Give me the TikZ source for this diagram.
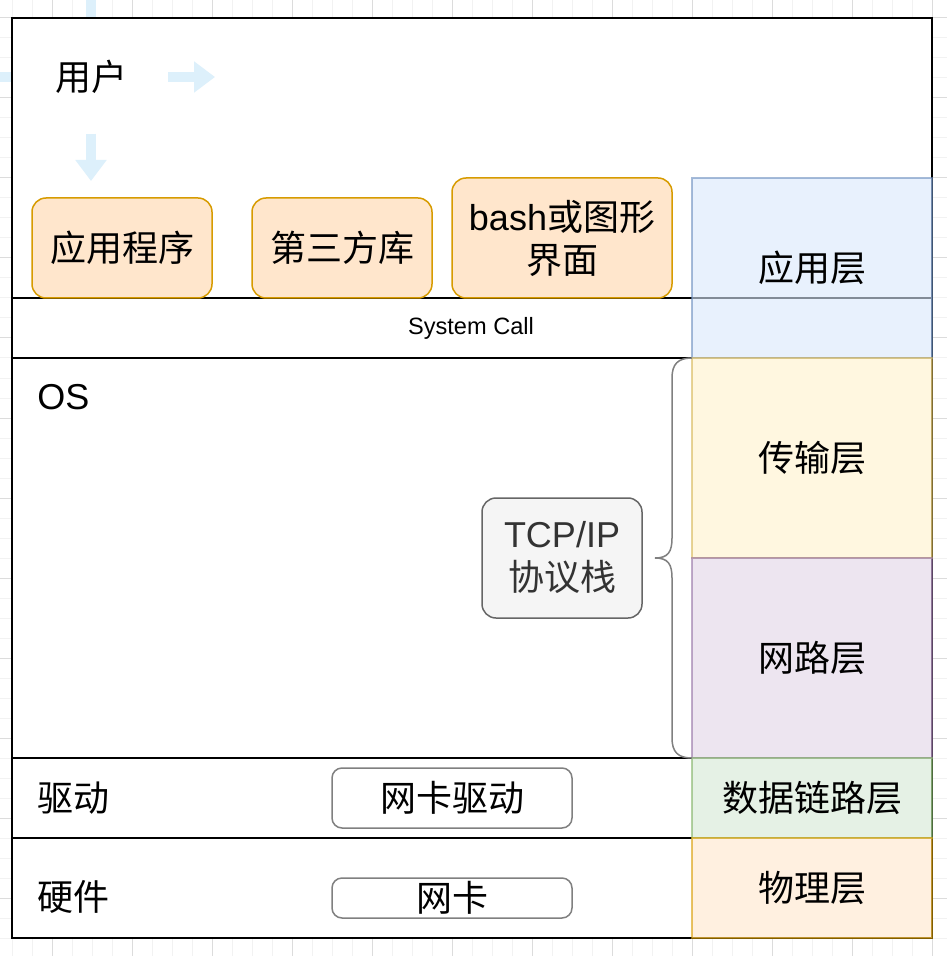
\documentclass[tikz,border=0pt]{standalone}
\usepackage{fontspec}
\setmainfont{Noto Sans CJK SC}
\newfontfamily\latinf{Liberation Sans}
\usetikzlibrary{arrows.meta}

\definecolor{gridmin}{HTML}{F2F2F2}
\definecolor{gridmaj}{HTML}{DCDCDC}
\definecolor{arrowblue}{HTML}{DDF0FB}
\definecolor{blockfill}{HTML}{FFE6CC}
\definecolor{blockline}{HTML}{D79B00}
\definecolor{appfill}{HTML}{DAE8FC}   \definecolor{appline}{HTML}{6C8EBF}
\definecolor{transfill}{HTML}{FFF2CC} \definecolor{transline}{HTML}{D6B656}
\definecolor{netfill}{HTML}{E1D5E7}   \definecolor{netline}{HTML}{9673A6}
\definecolor{linkfill}{HTML}{D5E8D4}  \definecolor{linkline}{HTML}{82B366}
\definecolor{phyfill}{HTML}{FFE6CC}   \definecolor{phyline}{HTML}{D79B00}

\tikzset{
  bigtext/.style={font=\fontsize{18}{21.5}\selectfont, align=center},
  sidetext/.style={bigtext, anchor=west, inner sep=0pt},
  blk/.style={bigtext, draw=blockline, fill=blockfill, line width=0.75pt,
    rounded corners=7pt, inner sep=0pt, minimum height=50pt},
  nicbox/.style={bigtext, draw=black!50, fill=white, line width=0.75pt,
    rounded corners=5pt, inner sep=0pt, minimum width=120pt},
  layer/.style={bigtext, line width=0.6pt, fill opacity=0.6, draw opacity=0.6,
    text opacity=1, inner sep=0pt, minimum width=120pt},
  bluearrow/.style={draw=arrowblue, line width=5pt,
    -{Triangle[width=15pt,length=10.5pt]}},
}

\begin{document}
\begin{tikzpicture}[x=0.5pt,y=-0.5pt]
\useasboundingbox (0,0) rectangle (947,956);

% grille de fond
\foreach \x in {12,32,...,932} \draw[gridmin, line width=0.5pt] (\x,0) -- (\x,956);
\foreach \y in {18,38,...,938} \draw[gridmin, line width=0.5pt] (0,\y) -- (947,\y);
\foreach \x in {52,132,...,932} \draw[gridmaj, line width=0.5pt] (\x,0) -- (\x,956);
\foreach \y in {18,98,...,898} \draw[gridmaj, line width=0.5pt] (0,\y) -- (947,\y);

% fleches derriere le cadre
\draw[arrowblue, line width=5pt] (91,0) -- (91,60);
\draw[arrowblue, line width=5pt] (0,77) -- (60,77);

% cadre
\node[draw, line width=1pt, fill=white, minimum width=460pt, minimum height=460pt,
  inner sep=0pt] (frame) at (472,478) {};
\draw[line width=1pt] (12,298) -- (932,298);
\foreach \y in {358,758,838} \draw[line width=1pt] (12,\y) -- (692,\y);

% utilisateur
\node[bigtext] (user) at (91,77) {用户};
\coordinate (ra) at (168,77);
\coordinate (rb) at (215,77);
\coordinate (da) at (91,134);
\coordinate (db) at (91,181);
\draw[bluearrow] (ra) -- (rb);
\draw[bluearrow] (da) -- (db);

% applications
\node[blk, minimum width=90pt] (prog) at (122,248) {应用程序};
\node[blk, minimum width=90pt] (lib) at (342,248) {第三方库};
\node[blk, minimum width=110pt, minimum height=60pt] (bash) at (562,238)
  {{\latinf bash}或图形\\界面};

\node[font=\latinf\fontsize{11.8}{14}\selectfont] (syscall) at (471,328) {System Call};

% noyau
\node[sidetext, font=\latinf\fontsize{18}{21.5}\selectfont] (os) at (37,397) {OS};
\node[bigtext, draw=black!60, fill=black!4, text=black!80, line width=0.75pt,
  rounded corners=7pt, minimum width=80pt, minimum height=60pt, inner sep=0pt]
  (tcpip) at (562,558) {{\latinf TCP/IP}\\协议栈};

% pilotes et materiel
\node[sidetext] (drv) at (37,798) {驱动};
\node[sidetext] (hw) at (37,897) {硬件};
\node[nicbox, minimum height=30pt] (nicdrv) at (452,798) {网卡驱动};
\node[nicbox, minimum height=20pt] (nic) at (452,898) {网卡};

% couches du modele
\foreach \name/\ya/\yb/\txt in {app/178/358/应用层, trans/358/558/传输层,
                                net/558/758/网路层, link/758/838/数据链路层,
                                phy/838/938/物理层} {
    \pgfmathsetmacro\hh{(\yb-\ya)/2}
    \pgfmathsetmacro\ym{(\ya+\yb)/2}
    \node[layer, fill=\name fill, draw=\name line, minimum height=\hh pt]
      (\name) at (812,\ym) {\txt};
}

% accolade
\draw[black!50, line width=0.75pt]
  (692,358) .. controls (678,358) and (672,364) .. (672,378) -- (672,538)
  .. controls (672,552) and (668,558) .. (655,558)
  .. controls (668,558) and (672,564) .. (672,578) -- (672,738)
  .. controls (672,752) and (678,758) .. (692,758);
\end{tikzpicture}
\end{document}
